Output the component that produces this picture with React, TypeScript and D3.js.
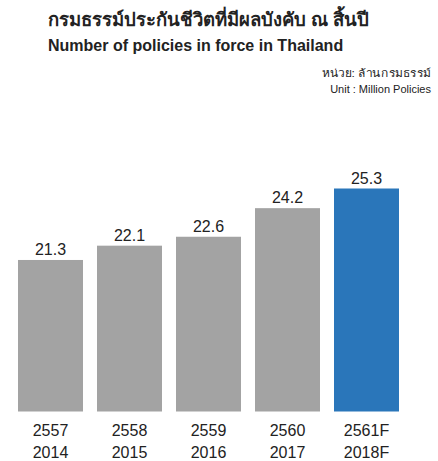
import React from "react";
import * as d3 from "d3";

const categoriesBE = ["2557", "2558", "2559", "2560", "2561F"];
const categoriesAD = ["2014", "2015", "2016", "2017", "2018F"];
const values = [21.3, 22.1, 22.6, 24.2, 25.3];
const forecastFlags = [false, false, false, false, true];

const titleTh = "กรมธรรม์ประกันชีวิตที่มีผลบังคับ ณ สิ้นปี";
const titleEn = "Number of policies in force in Thailand";
const unitTh = "หน่วย: ล้านกรมธรรม์";
const unitEn = "Unit : Million Policies";

const W = 438;
const H = 461;
const FONT = "Arial, 'Liberation Sans', Helvetica, sans-serif";

export default function App() {
  const x = d3
    .scaleBand<string>()
    .domain(categoriesBE)
    .range([18, 399])
    .paddingInner(14 / 79)
    .paddingOuter(0);
  const y = d3.scaleLinear().domain([12.82, 25.3]).range([411.5, 188.5]);
  const fmt = d3.format(".1f");

  return (
    <svg
      width={W}
      height={H}
      style={{ position: "absolute", left: 0, top: 0, background: "#fff" }}
      fontFamily={FONT}
    >
      <text x={48} y={25.5} fontSize={18.5} fontWeight="bold" fill="#222">
        {titleTh}
      </text>
      <text x={48} y={50.5} fontSize={16} fontWeight="bold" fill="#222">
        {titleEn}
      </text>
      <text
        x={431}
        y={77}
        fontSize={11}
        textAnchor="end"
        fill="#222"
        textLength={109}
        lengthAdjust="spacingAndGlyphs"
      >
        {unitTh}
      </text>
      <text x={431} y={93} fontSize={11} textAnchor="end" fill="#222">
        {unitEn}
      </text>

      {values.map((v, i) => {
        const c = categoriesBE[i];
        const bx = x(c) as number;
        const bw = x.bandwidth();
        const top = y(v);
        return (
          <g key={c}>
            <rect
              x={bx}
              y={top}
              width={bw}
              height={y.range()[0] - top}
              fill={forecastFlags[i] ? "#2a76ba" : "#a3a3a3"}
            />
            <text
              x={bx + bw / 2}
              y={top - 5}
              fontSize={16}
              textAnchor="middle"
              fill="#222"
            >
              {fmt(v)}
            </text>
            <text x={bx + bw / 2} y={435.5} fontSize={16} textAnchor="middle" fill="#222">
              {c}
            </text>
            <text x={bx + bw / 2} y={458} fontSize={16} textAnchor="middle" fill="#222">
              {categoriesAD[i]}
            </text>
          </g>
        );
      })}
    </svg>
  );
}
